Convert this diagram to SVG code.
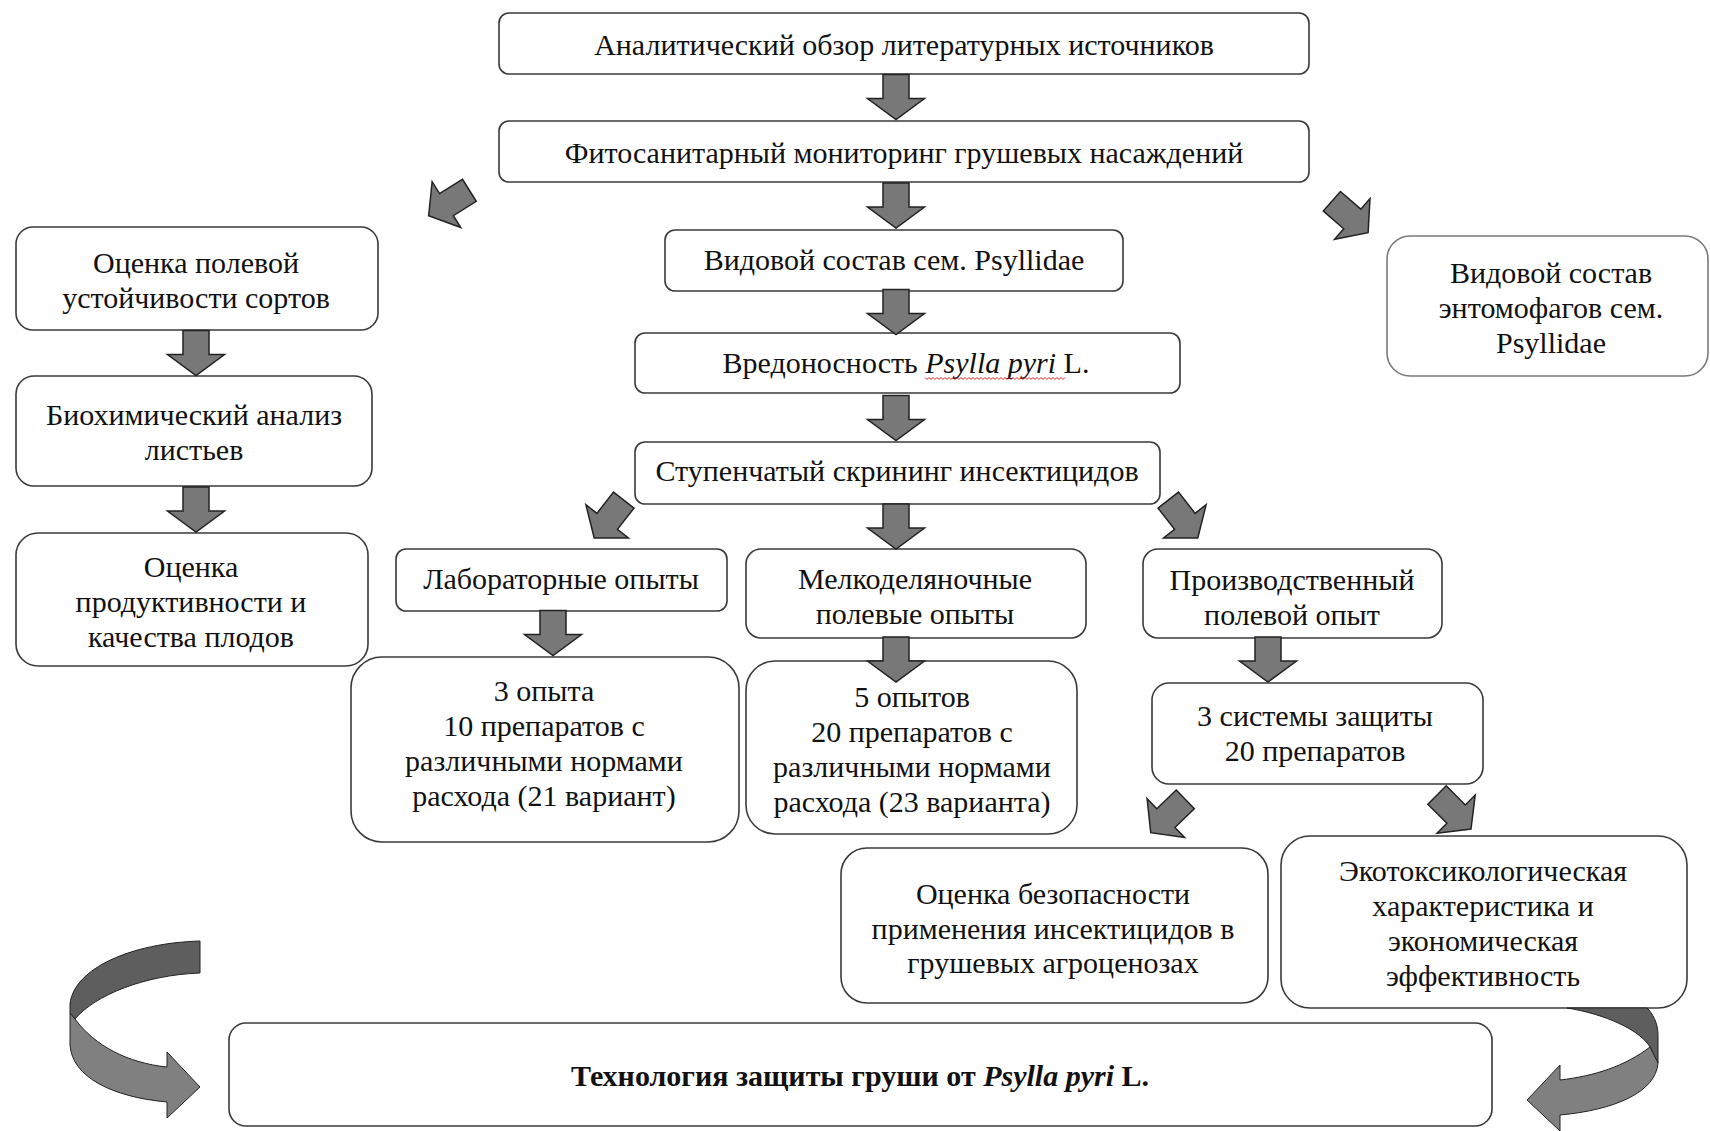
<svg xmlns="http://www.w3.org/2000/svg" xmlns:xlink="http://www.w3.org/1999/xlink" width="1710" height="1131" viewBox="0 0 1710 1131">
<style>
.box{fill:#fff;stroke:#3a3a3a;stroke-width:1.6}
.boxl{fill:#fff;stroke:#7a7a7a;stroke-width:1.6}
.t{font-family:"Liberation Serif","Times New Roman",serif;font-size:30px;fill:#111;text-anchor:middle}
.b{font-weight:bold}
.arr{fill:#787878;stroke:#222;stroke-width:1.5;stroke-linejoin:miter}
.rd{fill:#5e5e5e;stroke:#222;stroke-width:1}
.rl{fill:#808080;stroke:#222;stroke-width:1}
</style>
<defs>
<path id="dn" d="M-13,-23 L13,-23 L13,1 L28.5,1 L0,22 L-28.5,1 L-13,1 Z"/>
<path id="dg" d="M-13,-24 L13,-24 L13,3 L27,3 L0,24 L-27,3 L-13,3 Z"/>
</defs>
<rect width="1710" height="1131" fill="#fff"/>
<g id="nodes">
<g id="n-analytic"><rect class="box" x="499" y="13" width="810" height="61" rx="10"/><text class="t" x="904" y="55">Аналитический обзор литературных источников</text></g>
<g id="n-monitoring"><rect class="box" x="499" y="121" width="810" height="61" rx="10"/><text class="t" x="904" y="163">Фитосанитарный мониторинг грушевых насаждений</text></g>
<g id="n-species"><rect class="box" x="665" y="230" width="458" height="61" rx="10"/><text class="t" x="894" y="270">Видовой состав сем. Psyllidae</text></g>
<g id="n-harm"><rect class="box" x="635" y="333" width="545" height="60" rx="10"/><text class="t" x="906" y="373">Вредоносность <tspan font-style="italic">Psylla pyri</tspan> L.</text>
<path d="M925,377.5 l2,2 l2,-2 l2,2 l2,-2 l2,2 l2,-2 l2,2 l2,-2 l2,2 l2,-2 l2,2 l2,-2 l2,2 l2,-2 l2,2 l2,-2 l2,2 l2,-2 l2,2 l2,-2 l2,2 l2,-2 l2,2 l2,-2 l2,2 l2,-2 l2,2 l2,-2 l2,2 l2,-2 l2,2 l2,-2 l2,2 l2,-2 l2,2 l2,-2 l2,2 l2,-2 l2,2 l2,-2 l2,2 l2,-2 l2,2 l2,-2 l2,2 l2,-2 l2,2 l2,-2 l2,2 l2,-2 l2,2 l2,-2 l2,2 l2,-2 l2,2 l2,-2 l2,2 l2,-2 l2,2 l2,-2 l2,2 l2,-2 l2,2 l2,-2 l2,2 l2,-2 l2,2 l2,-2 l2,2 l2,-2" fill="none" stroke="#e02020" stroke-width="1"/></g>
<g id="n-screening"><rect class="box" x="635" y="442" width="525" height="62" rx="10"/><text class="t" x="897" y="481">Ступенчатый скрининг инсектицидов</text></g>
<g id="n-resistance"><rect class="box" x="16" y="227" width="362" height="103" rx="17"/><text class="t" x="196" y="273">Оценка полевой</text><text class="t" x="196" y="308">устойчивости сортов</text></g>
<g id="n-biochem"><rect class="box" x="16" y="376" width="356" height="110" rx="18"/><text class="t" x="194" y="425">Биохимический анализ</text><text class="t" x="194" y="460">листьев</text></g>
<g id="n-productivity"><rect class="box" x="16" y="533" width="352" height="133" rx="22"/><text class="t" x="191" y="577">Оценка</text><text class="t" x="191" y="612">продуктивности и</text><text class="t" x="191" y="647">качества плодов</text></g>
<g id="n-entomophages"><rect class="boxl" x="1387" y="236" width="321" height="140" rx="23"/><text class="t" x="1551" y="283">Видовой состав</text><text class="t" x="1551" y="318">энтомофагов сем.</text><text class="t" x="1551" y="353">Psyllidae</text></g>
<g id="n-lab"><rect class="box" x="396" y="549" width="331" height="62" rx="10"/><text class="t" x="561" y="589">Лабораторные опыты</text></g>
<g id="n-smallplot"><rect class="box" x="746" y="549" width="340" height="89" rx="15"/><text class="t" x="915" y="589">Мелкоделяночные</text><text class="t" x="915" y="624">полевые опыты</text></g>
<g id="n-production"><rect class="box" x="1143" y="549" width="299" height="89" rx="15"/><text class="t" x="1292" y="590">Производственный</text><text class="t" x="1292" y="625">полевой опыт</text></g>
<g id="n-3exp"><rect class="box" x="351" y="657" width="388" height="185" rx="31"/><text class="t" x="544" y="701">3 опыта</text><text class="t" x="544" y="736">10 препаратов с</text><text class="t" x="544" y="771">различными нормами</text><text class="t" x="544" y="806">расхода (21 вариант)</text></g>
<g id="n-5exp"><rect class="box" x="746" y="661" width="331" height="173" rx="29"/><text class="t" x="912" y="707">5 опытов</text><text class="t" x="912" y="742">20 препаратов с</text><text class="t" x="912" y="777">различными нормами</text><text class="t" x="912" y="812">расхода (23 варианта)</text></g>
<g id="n-3sys"><rect class="box" x="1152" y="683" width="331" height="101" rx="17"/><text class="t" x="1315" y="726">3 системы защиты</text><text class="t" x="1315" y="761">20 препаратов</text></g>
<g id="n-safety"><rect class="box" x="841" y="848" width="427" height="155" rx="26"/><text class="t" x="1053" y="904">Оценка безопасности</text><text class="t" x="1053" y="939">применения инсектицидов в</text><text class="t" x="1053" y="973">грушевых агроценозах</text></g>
<g id="n-ecotox"><rect class="box" x="1281" y="836" width="406" height="172" rx="29"/><text class="t" x="1483" y="881">Экотоксикологическая</text><text class="t" x="1483" y="916">характеристика и</text><text class="t" x="1483" y="951">экономическая</text><text class="t" x="1483" y="986">эффективность</text></g>
<g id="n-technology"><rect class="box" x="229" y="1023" width="1263" height="103" rx="17"/><text class="t b" x="860" y="1086">Технология защиты груши от <tspan font-style="italic">Psylla pyri</tspan> L.</text></g>
</g>
<g id="connectors">
<use xlink:href="#dn" class="arr" transform="translate(896,97.5)"/>
<use xlink:href="#dn" class="arr" transform="translate(896,206)"/>
<use xlink:href="#dn" class="arr" transform="translate(896,312.5)"/>
<use xlink:href="#dn" class="arr" transform="translate(896,418.5)"/>
<use xlink:href="#dn" class="arr" transform="translate(896,527)"/>
<use xlink:href="#dn" class="arr" transform="translate(196,353.5)"/>
<use xlink:href="#dn" class="arr" transform="translate(196,510)"/>
<use xlink:href="#dn" class="arr" transform="translate(553,633.5)"/>
<use xlink:href="#dn" class="arr" transform="translate(896,660)"/>
<use xlink:href="#dn" class="arr" transform="translate(1268,660)"/>
<use xlink:href="#dg" class="arr" transform="translate(449,203) rotate(58)"/>
<use xlink:href="#dg" class="arr" transform="translate(1350,217) rotate(-49)"/>
<use xlink:href="#dg" class="arr" transform="translate(609,519) rotate(38)"/>
<use xlink:href="#dg" class="arr" transform="translate(1183,519) rotate(-38)"/>
<use xlink:href="#dg" class="arr" transform="translate(1168,816) rotate(46)"/>
<use xlink:href="#dg" class="arr" transform="translate(1454,812) rotate(-45)"/>
<path class="rd" d="M200,941 C132,943 74,968 70,1004 L70,1013 L75,1019 C95,995 145,975 200,973 Z"/>
<path class="rl" d="M75,1019 C95,1046 128,1063 167,1067 L167,1052 L200,1087 L167,1118 L167,1102 C112,1097 72,1077 70,1045 L70,1013 Z"/>
<path class="rd" d="M1567,1008 C1605,1014 1640,1030 1650,1047 L1658,1063 L1658,1035 C1658,1022 1652,1013 1647,1008 Z"/>
<path class="rl" d="M1650,1047 C1625,1066 1595,1076 1560,1080 L1560,1065 L1527,1100 L1560,1131 L1560,1115 C1615,1110 1656,1092 1658,1063 Z"/>
</g>
</svg>
